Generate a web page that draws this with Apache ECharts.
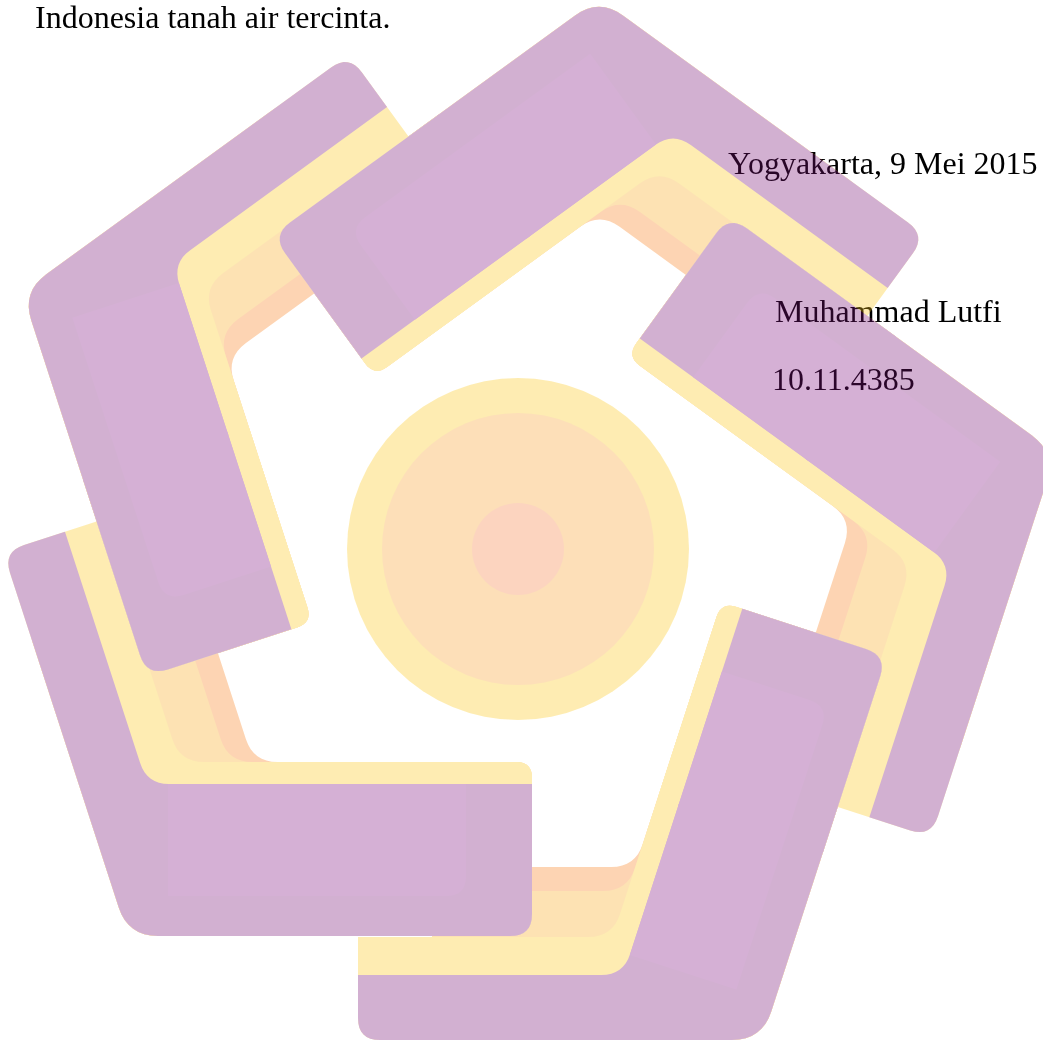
<!DOCTYPE html>
<html>
<head>
    <meta charset="utf-8" />
    <title>Indonesia tanah air tercinta</title>
    <script type="text/javascript" src="https://cdn.jsdelivr.net/npm/echarts@6/dist/echarts.min.js"></script>
    <style>
        html, body {
            margin: 0;
            padding: 0;
            background: #fff;
        }

        .layer {
            position: absolute;
            left: 0;
            top: 0;
            width: 1043px;
            height: 1041px;
        }

        /* the logo is a faded watermark printed over the text */
        #logo {
            opacity: 0.33;
        }
    </style>
</head>
<body>
    <div id="page" class="layer"></div>
    <div id="logo" class="layer"></div>

    <script>
        // page text
        var textLines = ["Indonesia tanah air tercinta.", "Yogyakarta, 9 Mei 2015", "Muhammad Lutfi", "10.11.4385"];

        // logo: five arms, each turned 72 degrees from the last
        var armAngles = [0, 72, 144, 216, 288];
        var armApex = [[599, -2], [1056, 453], [762, 1040], [128, 936], [22, 292]];   // outer corner of each arm
        var legLength = 404;
        // layers of one arm, bottom to top
        var layerNames = ["orange", "light orange", "yellow", "purple"];
        var headWidth = [174, 174, 174, 152];
        var tailWidth = [173, 149, 103, 65];
        var tailLength = [330, 330, 404, 404];
        // rings of the centre disc
        var discCenter = [518, 549];
        var circleRadius = [171, 136, 46];

        // colours as they look on paper, the logo layer is faded to logoAlpha
        var logoAlpha = 0.33;
        var layerColors = ["#FDD5B4", "#FDE3B4", "#FEEDB3", "#D3B1D2"];
        var highlightColor = "#D6B1D6";
        var circleColors = ["#FEEDB3", "#FDE0B9", "#FCD5C0"];

        function throughAlpha(hex) {
            var v = parseInt(hex.slice(1), 16);
            var ch = [(v >> 16) & 255, (v >> 8) & 255, v & 255].map(function (c) {
                return Math.max(0, Math.min(255, Math.round(255 - (255 - c) / logoAlpha)));
            });
            return "rgb(" + ch.join(",") + ")";
        }

        var C = Math.cos(36 * Math.PI / 180);
        var S = Math.sin(36 * Math.PI / 180);
        var HL_FROM = 40, HL_TO = 338, HL_IN = 40;

        // point on the head leg: a along the leg, o in from the outer edge
        function headPt(a, o) {
            return [-C * a + S * o, S * a + C * o];
        }

        function vShape(h, t, lh, lt) {
            var ix = (h - t) / (2 * S), iy = (h + t) / (2 * C);
            return [[0, 0], [-C * lh, S * lh], [-C * lh + S * h, S * lh + C * h], [ix, iy], [C * lt - S * t, S * lt + C * t], [C * lt, S * lt]];
        }

        function roundCorners(pts, radii) {
            var out = [];
            var n = pts.length;
            for (var i = 0; i < n; i++) {
                var p = pts[i], a = pts[(i + n - 1) % n], b = pts[(i + 1) % n];
                var r = radii[i];
                if (!r) { out.push(p); continue; }
                var da = Math.hypot(a[0] - p[0], a[1] - p[1]);
                var db = Math.hypot(b[0] - p[0], b[1] - p[1]);
                var rr = Math.min(r, da / 2, db / 2);
                var p1 = [p[0] + (a[0] - p[0]) * rr / da, p[1] + (a[1] - p[1]) * rr / da];
                var p2 = [p[0] + (b[0] - p[0]) * rr / db, p[1] + (b[1] - p[1]) * rr / db];
                for (var k = 0; k <= 8; k++) {
                    var t = k / 8, u = 1 - t;
                    out.push([u * u * p1[0] + 2 * u * t * p[0] + t * t * p2[0], u * u * p1[1] + 2 * u * t * p[1] + t * t * p2[1]]);
                }
            }
            return out;
        }

        function makeMapper(api, idx) {
            var theta = api.value(0) * Math.PI / 180;
            var cs = Math.cos(theta), sn = Math.sin(theta);
            var apex = armApex[idx];
            return function (p) {
                return api.coord([apex[0] + p[0] * cs - p[1] * sn, apex[1] + p[0] * sn + p[1] * cs]);
            };
        }

        function poly(pts, radii, fill, k) {
            return {
                type: "polygon",
                shape: { points: roundCorners(pts, radii.map(function (r) { return r * k; })) },
                style: { fill: fill }
            };
        }

        // lighter band on the head leg
        function highlight(toPx, k, from) {
            var pts = [headPt(from, HL_IN), headPt(HL_TO, HL_IN), headPt(HL_TO, headWidth[3]), headPt(from, headWidth[3])].map(toPx);
            return poly(pts, [0, 20, 0, 0], throughAlpha(highlightColor), k);
        }

        function renderArm(params, api) {
            var toPx = makeMapper(api, params.dataIndex);
            var k = api.size([1, 0])[0];
            var children = [];
            for (var i = 0; i < layerNames.length; i++) {
                var pts = vShape(headWidth[i], tailWidth[i], legLength, tailLength[i]).map(toPx);
                var radii = i === 3 ? [30, 22, 0, 22, 0, 22] : [30, 22, 16, 24, 0, 22];
                children.push(poly(pts, radii, throughAlpha(layerColors[i]), k));
            }
            children.push(highlight(toPx, k, HL_FROM));
            return { type: "group", children: children };
        }

        // the far end of each head lies over the next arm's tail
        function renderHead(params, api) {
            var toPx = makeMapper(api, params.dataIndex);
            var k = api.size([1, 0])[0];
            var a0 = 200, a1 = legLength;
            var yellow = [headPt(a0, 0), headPt(a1, 0), headPt(a1, headWidth[2]), headPt(a0, headWidth[2])].map(toPx);
            var purple = [headPt(a0 - 2, 0), headPt(a1, 0), headPt(a1, headWidth[3]), headPt(a0 - 2, headWidth[3])].map(toPx);
            return {
                type: "group",
                children: [
                    poly(yellow, [0, 22, 16, 0], throughAlpha(layerColors[2]), k),
                    poly(purple, [0, 22, 0, 0], throughAlpha(layerColors[3]), k),
                    highlight(toPx, k, a0 - 4)
                ]
            };
        }

        function renderCircle(params, api) {
            var c = api.coord(discCenter);
            var r = api.size([api.value(0), 0])[0];
            return {
                type: "circle",
                shape: { cx: c[0], cy: c[1], r: r },
                style: { fill: throughAlpha(circleColors[params.dataIndex]) }
            };
        }

        var pageChart = echarts.init(document.getElementById("page"));
        var textStyle = { fontFamily: "Liberation Serif", fontSize: 32, fill: "#000", verticalAlign: "middle" };
        pageChart.setOption({
            backgroundColor: "#fff",
            animation: false,
            graphic: [
                { type: "text", x: 35, y: 20, style: Object.assign({ text: textLines[0] }, textStyle) },
                { type: "text", x: 728, y: 166, style: Object.assign({ text: textLines[1] }, textStyle) },
                { type: "text", x: 775, y: 314, style: Object.assign({ text: textLines[2] }, textStyle) },
                { type: "text", x: 772, y: 382, style: Object.assign({ text: textLines[3] }, textStyle) }
            ]
        });

        var logoChart = echarts.init(document.getElementById("logo"));
        logoChart.setOption({
            animation: false,
            grid: { left: 0, right: 0, top: 0, bottom: 0 },
            xAxis: { type: "value", min: 0, max: 1043, show: false },
            yAxis: { type: "value", min: 0, max: 1041, inverse: true, show: false },
            series: [
                {
                    type: "custom",
                    silent: true,
                    renderItem: renderCircle,
                    data: circleRadius.map(function (r) { return [r, 0]; })
                },
                {
                    type: "custom",
                    silent: true,
                    renderItem: renderArm,
                    data: armAngles.map(function (a) { return [a, 0]; })
                },
                {
                    type: "custom",
                    silent: true,
                    renderItem: renderHead,
                    data: armAngles.map(function (a) { return [a, 0]; })
                }
            ]
        });
    </script>
</body>
</html>
